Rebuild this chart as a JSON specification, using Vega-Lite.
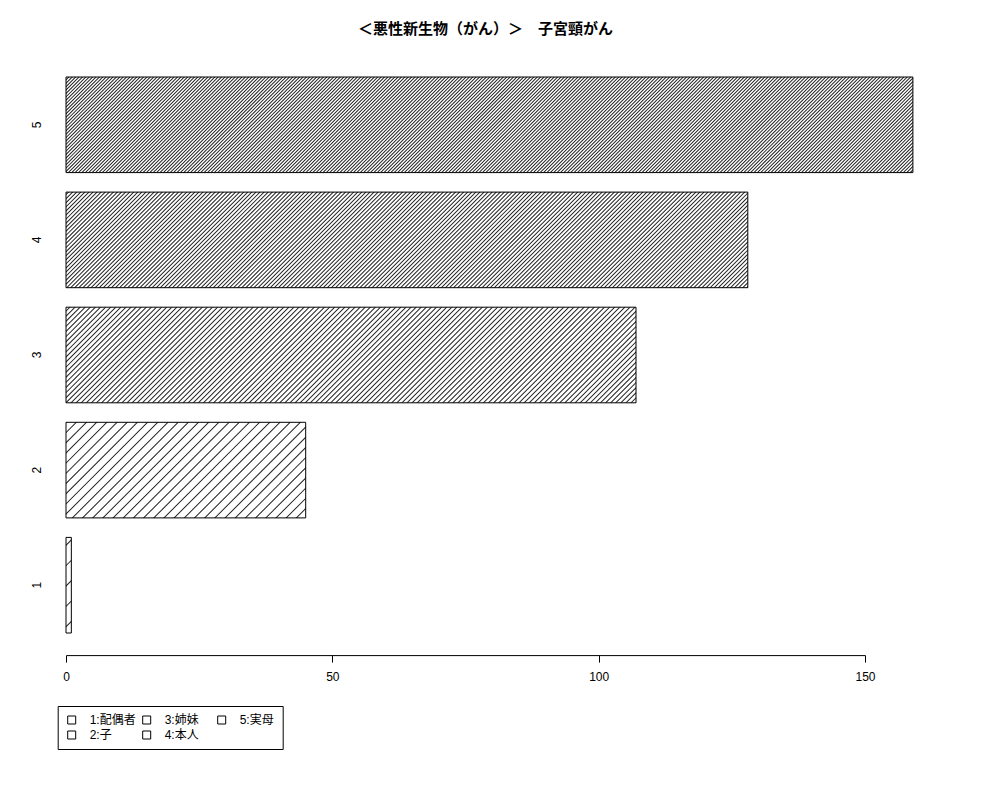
{
  "$schema": "https://vega.github.io/schema/vega-lite/v6.json",
  "data": {
    "values": [
      {"k": "1", "label": "1:配偶者", "n": 1},
      {"k": "2", "label": "2:子", "n": 45},
      {"k": "3", "label": "3:姉妹", "n": 107},
      {"k": "4", "label": "4:本人", "n": 128},
      {"k": "5", "label": "5:実母", "n": 159}
    ]
  },
  "bounds": "flush",
  "spacing": 19.1,
  "padding": {"left": 29, "top": 21, "right": 10, "bottom": 10},
  "vconcat": [
    {
      "title": {
        "text": "＜悪性新生物（がん）＞　子宮頸がん",
        "font": "Liberation Sans, Noto Sans CJK JP",
        "fontSize": 15,
        "fontWeight": "bold",
        "color": "black",
        "anchor": "middle",
        "frame": "group",
        "dx": -4,
        "offset": 40
      },
      "width": 846.9,
      "height": 95.6,
      "transform": [{"filter": "datum.k == '5'"}],
      "layer": [
        {
          "mark": {"type": "rule", "clip": true, "strokeWidth": 1300, "strokeDash": [1, 1.4], "color": "#222"},
          "encoding": {
            "x": {"field": "n", "type": "quantitative", "axis": null},
            "x2": {"datum": 0},
            "y": {"field": "n", "type": "quantitative", "scale": {"domain": [0, 17.947], "reverse": true, "nice": false}, "axis": null},
            "y2": {"datum": 0}
          }
        },
        {
          "mark": {"type": "bar", "filled": false, "strokeWidth": 1},
          "encoding": {
            "x": {"field": "n", "type": "quantitative", "scale": {"nice": false}, "axis": null},
            "y": {"field": "k", "type": "nominal", "scale": {"paddingInner": 0, "paddingOuter": 0},
                  "axis": {"labelAngle": 270, "labelAlign": "center", "labelBaseline": "middle", "ticks": false, "tickSize": 0, "domain": false, "labelPadding": 30, "title": null}},
            "stroke": {"field": "label", "type": "nominal",
                       "scale": {"domain": ["1:配偶者", "2:子", "3:姉妹", "4:本人", "5:実母"], "range": ["black", "black", "black", "black", "black"]}}
          }
        }
      ],
      "resolve": {"scale": {"y": "independent"}}
    },
    {
      "width": 681.8,
      "height": 95.6,
      "transform": [{"filter": "datum.k == '4'"}],
      "layer": [
        {
          "mark": {"type": "rule", "clip": true, "strokeWidth": 1300, "strokeDash": [1, 1.88], "color": "#222"},
          "encoding": {
            "x": {"field": "n", "type": "quantitative", "axis": null},
            "x2": {"datum": 0},
            "y": {"field": "n", "type": "quantitative", "scale": {"domain": [0, 17.947], "reverse": true, "nice": false}, "axis": null},
            "y2": {"datum": 0}
          }
        },
        {
          "mark": {"type": "bar", "filled": false, "strokeWidth": 1},
          "encoding": {
            "x": {"field": "n", "type": "quantitative", "scale": {"nice": false}, "axis": null},
            "y": {"field": "k", "type": "nominal", "scale": {"paddingInner": 0, "paddingOuter": 0},
                  "axis": {"labelAngle": 270, "labelAlign": "center", "labelBaseline": "middle", "ticks": false, "tickSize": 0, "domain": false, "labelPadding": 30, "title": null}},
            "stroke": {"field": "label", "type": "nominal",
                       "scale": {"domain": ["1:配偶者", "2:子", "3:姉妹", "4:本人", "5:実母"], "range": ["black", "black", "black", "black", "black"]}}
          }
        }
      ],
      "resolve": {"scale": {"y": "independent"}}
    },
    {
      "width": 570.0,
      "height": 95.6,
      "transform": [{"filter": "datum.k == '3'"}],
      "layer": [
        {
          "mark": {"type": "rule", "clip": true, "strokeWidth": 1300, "strokeDash": [1, 2.6], "color": "#222"},
          "encoding": {
            "x": {"field": "n", "type": "quantitative", "axis": null},
            "x2": {"datum": 0},
            "y": {"field": "n", "type": "quantitative", "scale": {"domain": [0, 17.947], "reverse": true, "nice": false}, "axis": null},
            "y2": {"datum": 0}
          }
        },
        {
          "mark": {"type": "bar", "filled": false, "strokeWidth": 1},
          "encoding": {
            "x": {"field": "n", "type": "quantitative", "scale": {"nice": false}, "axis": null},
            "y": {"field": "k", "type": "nominal", "scale": {"paddingInner": 0, "paddingOuter": 0},
                  "axis": {"labelAngle": 270, "labelAlign": "center", "labelBaseline": "middle", "ticks": false, "tickSize": 0, "domain": false, "labelPadding": 30, "title": null}},
            "stroke": {"field": "label", "type": "nominal",
                       "scale": {"domain": ["1:配偶者", "2:子", "3:姉妹", "4:本人", "5:実母"], "range": ["black", "black", "black", "black", "black"]}}
          }
        }
      ],
      "resolve": {"scale": {"y": "independent"}}
    },
    {
      "width": 239.7,
      "height": 95.6,
      "transform": [{"filter": "datum.k == '2'"}],
      "layer": [
        {
          "mark": {"type": "rule", "clip": true, "strokeWidth": 1300, "strokeDash": [1, 6.2], "color": "#222"},
          "encoding": {
            "x": {"field": "n", "type": "quantitative", "axis": null},
            "x2": {"datum": 0},
            "y": {"field": "n", "type": "quantitative", "scale": {"domain": [0, 17.947], "reverse": true, "nice": false}, "axis": null},
            "y2": {"datum": 0}
          }
        },
        {
          "mark": {"type": "bar", "filled": false, "strokeWidth": 1},
          "encoding": {
            "x": {"field": "n", "type": "quantitative", "scale": {"nice": false}, "axis": null},
            "y": {"field": "k", "type": "nominal", "scale": {"paddingInner": 0, "paddingOuter": 0},
                  "axis": {"labelAngle": 270, "labelAlign": "center", "labelBaseline": "middle", "ticks": false, "tickSize": 0, "domain": false, "labelPadding": 30, "title": null}},
            "stroke": {"field": "label", "type": "nominal",
                       "scale": {"domain": ["1:配偶者", "2:子", "3:姉妹", "4:本人", "5:実母"], "range": ["black", "black", "black", "black", "black"]}}
          }
        }
      ],
      "resolve": {"scale": {"y": "independent"}}
    },
    {
      "width": 5.33,
      "height": 95.6,
      "transform": [{"filter": "datum.k == '1'"}],
      "layer": [
        {
          "mark": {"type": "rule", "clip": true, "strokeWidth": 1300, "strokeDash": [1, 13.4], "color": "#222"},
          "encoding": {
            "x": {"datum": 18, "type": "quantitative", "scale": {"domain": [0, 1], "nice": false}, "axis": null},
            "x2": {"datum": 0},
            "y": {"datum": 18, "type": "quantitative", "scale": {"domain": [0, 17.947], "reverse": true, "nice": false}, "axis": null},
            "y2": {"datum": 0}
          }
        },
        {
          "mark": {"type": "bar", "filled": false, "strokeWidth": 1},
          "encoding": {
            "x": {"field": "n", "type": "quantitative", "scale": {"domain": [0, 1], "nice": false}, "axis": null},
            "y": {"field": "k", "type": "nominal", "scale": {"paddingInner": 0, "paddingOuter": 0},
                  "axis": {"labelAngle": 270, "labelAlign": "center", "labelBaseline": "middle", "ticks": false, "tickSize": 0, "domain": false, "labelPadding": 30, "title": null}},
            "stroke": {"field": "label", "type": "nominal",
                       "scale": {"domain": ["1:配偶者", "2:子", "3:姉妹", "4:本人", "5:実母"], "range": ["black", "black", "black", "black", "black"]}}
          }
        }
      ],
      "resolve": {"scale": {"y": "independent"}}
    },
    {
      "width": 799,
      "height": 2.6,
      "mark": {"type": "tick", "opacity": 0},
      "encoding": {
        "x": {"field": "n", "type": "quantitative", "scale": {"domain": [0, 150], "nice": false},
              "axis": {"values": [0, 50, 100, 150], "tickSize": 7, "labelPadding": 9, "labelFlush": false, "title": null}}
      }
    }
  ],
  "config": {
    "view": {"stroke": null},
    "axis": {
      "labelFont": "Liberation Sans",
      "labelFontSize": 12,
      "labelColor": "black",
      "domainColor": "black",
      "tickColor": "black",
      "grid": false
    },
    "legend": {
      "orient": "none",
      "legendX": -8.3,
      "legendY": 629,
      "columns": 3,
      "gridAlign": "all",
      "title": null,
      "strokeColor": "black",
      "padding": 8,
      "symbolType": "square",
      "symbolSize": 64,
      "symbolStrokeWidth": 1,
      "symbolFillColor": "white",
      "labelFont": "Liberation Sans, Noto Sans CJK JP",
      "labelFontSize": 12,
      "labelColor": "black",
      "labelOffset": 12,
      "columnPadding": 4,
      "rowPadding": 3
    }
  }
}
